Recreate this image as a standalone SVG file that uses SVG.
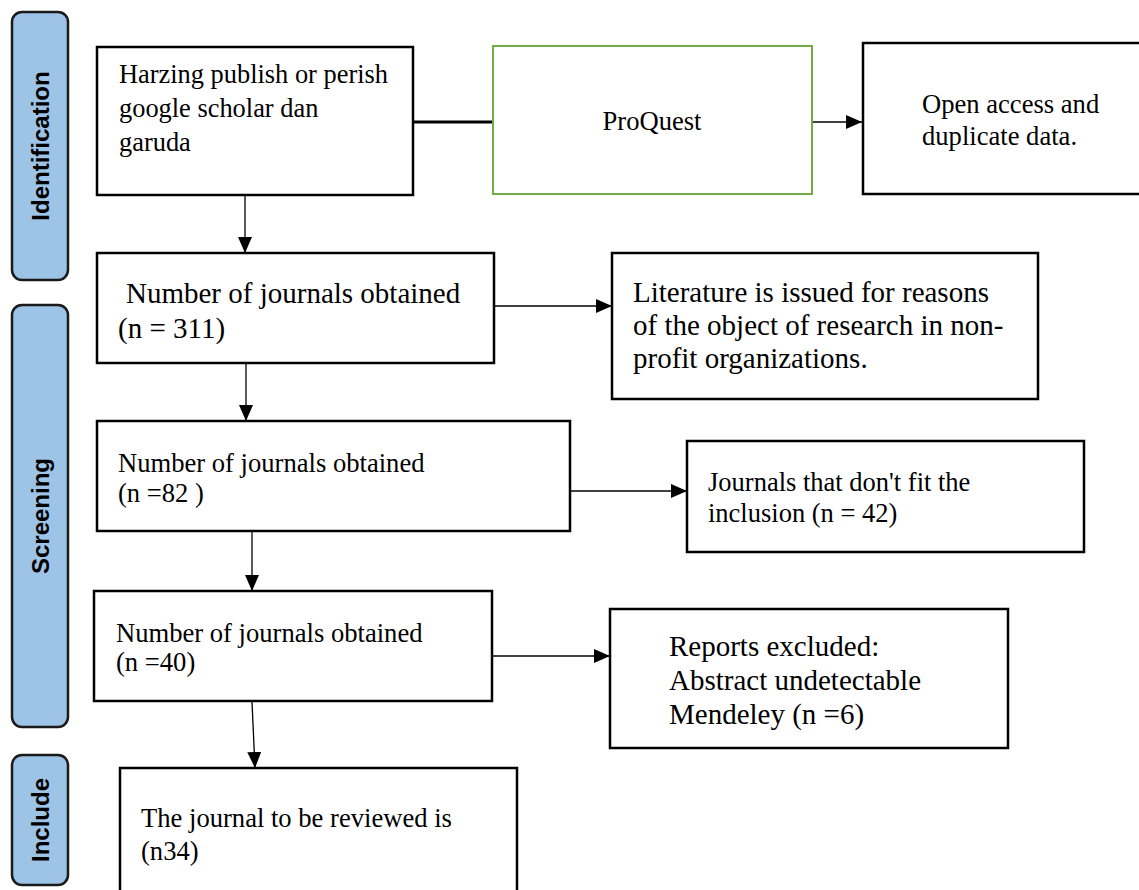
<svg xmlns="http://www.w3.org/2000/svg" width="1139" height="890" viewBox="0 0 1139 890">
<style>
.bar{fill:#9dc3e6;stroke:#1a1a1a;stroke-width:2.5}
.bl{font-family:"Liberation Sans",Arial,sans-serif;font-weight:bold;font-size:24px;fill:#000;text-anchor:middle}
.box{fill:#fff;stroke:#000;stroke-width:2.5}
.gbox{fill:#fff;stroke:#70ad47;stroke-width:2}
.t{font-family:"Liberation Serif","Times New Roman",serif;fill:#000}
.c{stroke:#000;stroke-width:1.3;fill:none}
</style>
<defs>
<marker id="ah" markerWidth="16" markerHeight="14" viewBox="0 0 16 14" refX="16" refY="7" orient="auto" markerUnits="userSpaceOnUse">
<path d="M0,0 L16,7 L0,14 Z" fill="#000"/>
</marker>
</defs>
<rect width="1139" height="890" fill="#fff"/>
<g id="phase-identification"><rect class="bar" x="12" y="12" width="56" height="268" rx="10"/><text class="bl" transform="translate(49,146) rotate(-90)">Identification</text></g>
<g id="phase-screening"><rect class="bar" x="12" y="305" width="56" height="422" rx="10"/><text class="bl" transform="translate(49,516) rotate(-90)">Screening</text></g>
<g id="phase-include"><rect class="bar" x="12" y="755" width="56" height="130" rx="10"/><text class="bl" transform="translate(49,820) rotate(-90)">Include</text></g>

<g id="connectors">
<line x1="413" y1="122" x2="493" y2="122" stroke="#000" stroke-width="3"/>
<line class="c" x1="812" y1="122" x2="862" y2="122" marker-end="url(#ah)"/>
<line class="c" x1="245" y1="196" x2="245" y2="253" marker-end="url(#ah)"/>
<line class="c" x1="494" y1="306" x2="612" y2="306" marker-end="url(#ah)"/>
<line class="c" x1="246" y1="364" x2="246" y2="421" marker-end="url(#ah)"/>
<line class="c" x1="570" y1="491" x2="687" y2="491" marker-end="url(#ah)"/>
<line class="c" x1="252" y1="532" x2="252" y2="591" marker-end="url(#ah)"/>
<line class="c" x1="492" y1="656" x2="610" y2="656" marker-end="url(#ah)"/>
<line class="c" x1="252" y1="702" x2="255" y2="768" marker-end="url(#ah)"/>
</g>

<g id="n-harzing"><rect class="box" x="97" y="47" width="316" height="148"/>
<text class="t" font-size="26.4"><tspan x="119" y="83">Harzing publish or perish</tspan><tspan x="119" y="117">google scholar dan</tspan><tspan x="119" y="151">garuda</tspan></text></g>
<g id="n-proquest"><rect class="gbox" x="493" y="46" width="319" height="148"/>
<text class="t" font-size="26.6" x="652" y="130" text-anchor="middle">ProQuest</text></g>
<g id="n-open"><rect class="box" x="863" y="43" width="280" height="151"/>
<text class="t" font-size="26.6"><tspan x="922" y="113">Open access and</tspan><tspan x="922" y="145">duplicate data.</tspan></text></g>

<g id="n-311"><rect class="box" x="97" y="253" width="397" height="110"/>
<text class="t" font-size="29"><tspan x="126" y="303">Number of journals obtained</tspan><tspan x="118" y="338">(n = 311)</tspan></text></g>
<g id="n-literature"><rect class="box" x="612" y="253" width="426" height="146"/>
<text class="t" font-size="29"><tspan x="633" y="302">Literature is issued for reasons</tspan><tspan x="633" y="335">of the object of research in non-</tspan><tspan x="633" y="368">profit organizations.</tspan></text></g>

<g id="n-82"><rect class="box" x="97" y="421" width="473" height="110"/>
<text class="t" font-size="26.6"><tspan x="118" y="472">Number of journals obtained</tspan><tspan x="118" y="502">(n =82 )</tspan></text></g>
<g id="n-42"><rect class="box" x="687" y="441" width="397" height="111"/>
<text class="t" font-size="26.5"><tspan x="708" y="491">Journals that don't fit the</tspan><tspan x="708" y="522">inclusion (n = 42)</tspan></text></g>

<g id="n-40"><rect class="box" x="94" y="591" width="398" height="110"/>
<text class="t" font-size="26.6"><tspan x="116" y="642">Number of journals obtained</tspan><tspan x="116" y="671">(n =40)</tspan></text></g>
<g id="n-reports"><rect class="box" x="610" y="609" width="398" height="139"/>
<text class="t" font-size="29"><tspan x="669" y="656">Reports excluded:</tspan><tspan x="669" y="690">Abstract undetectable</tspan><tspan x="669" y="724">Mendeley (n =6)</tspan></text></g>

<g id="n-34"><rect class="box" x="120" y="768" width="397" height="130"/>
<text class="t" font-size="26.6"><tspan x="141" y="827">The journal to be reviewed is</tspan><tspan x="141" y="860">(n34)</tspan></text></g>
</svg>
